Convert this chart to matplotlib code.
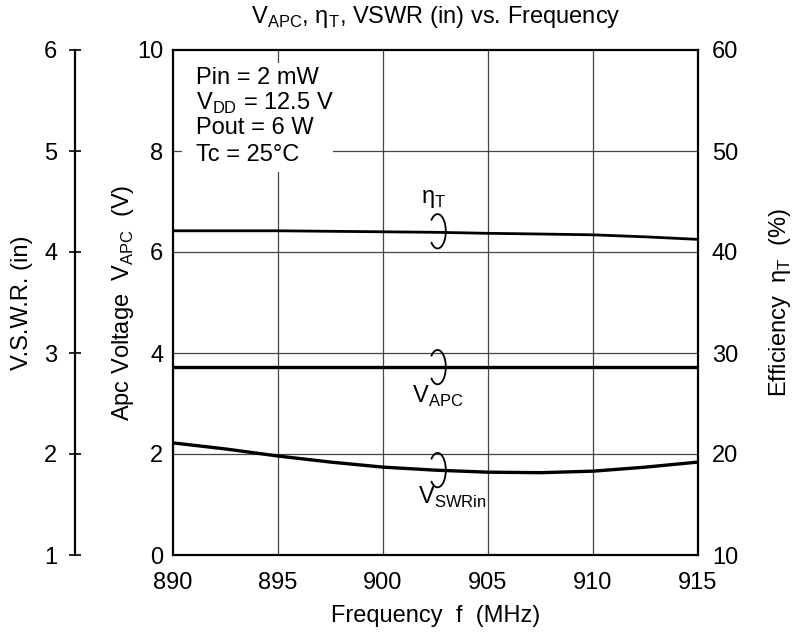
import matplotlib
matplotlib.use("Agg")
import matplotlib.pyplot as plt
from matplotlib.patches import Arc, Rectangle

plt.rcParams['font.family'] = ['Liberation Sans', 'DejaVu Sans']
plt.rcParams['mathtext.fontset'] = 'custom'
plt.rcParams['mathtext.rm'] = 'Liberation Sans'

# data
freq = [890, 892.5, 895, 897.5, 900, 902.5, 905, 907.5, 910, 912.5, 915]
vapc = [3.72, 3.72, 3.72, 3.72, 3.72, 3.72, 3.72, 3.72, 3.72, 3.72, 3.72]
eff = [42.1, 42.1, 42.1, 42.05, 42.0, 41.95, 41.85, 41.78, 41.7, 41.5, 41.25]
vswr = [2.11, 2.05, 1.98, 1.92, 1.87, 1.84, 1.82, 1.815, 1.83, 1.87, 1.92]

x_ticks = [890, 895, 900, 905, 910, 915]
v_ticks = [0, 2, 4, 6, 8, 10]
eff_ticks = [10, 20, 30, 40, 50, 60]
vswr_ticks = [1, 2, 3, 4, 5, 6]

fs = 17
fig = plt.figure(figsize=(7.92, 6.36), dpi=100)
ax = fig.add_axes([173/792, 1-555/636, 525/792, 505/636])

ax.set_xlim(890, 915)
ax.set_ylim(0, 10)
ax.set_xticks(x_ticks)
ax.set_yticks(v_ticks)
ax.tick_params(length=0, labelsize=fs)
ax.tick_params(axis='x', pad=12)
ax.tick_params(axis='y', pad=7)
for s in ax.spines.values():
    s.set_linewidth(1.6)
for xv in x_ticks[1:-1]:
    ax.axvline(xv, color='#444444', lw=0.9, zorder=1)
for yv in v_ticks[1:-1]:
    ax.axhline(yv, color='#444444', lw=0.9, zorder=1)

ax.plot(freq, vapc, color='black', lw=2.4, zorder=3)
ax.set_xlabel('Frequency  f  (MHz)', fontsize=fs, labelpad=8)
ax.set_ylabel(r'Apc Voltage  V$_\mathregular{APC}$  (V)', fontsize=fs, va='center')
ax.yaxis.set_label_coords((123-173)/525, 0.5)

# condition box
ax.add_patch(Rectangle((890.45, 7.58), 7.15, 2.16, facecolor='white',
                       edgecolor='none', zorder=2))
cond = ['Pin = 2 mW', r'V$_\mathregular{DD}$ = 12.5 V', 'Pout = 6 W', 'Tc = 25°C']
cond_y = [9.45, 8.95, 8.46, 7.92]
for t, yv in zip(cond, cond_y):
    ax.text(891.1, yv, t, fontsize=fs, va='center', ha='left', zorder=4)

# efficiency axis
ax_e = ax.twinx()
ax_e.set_ylim(10, 60)
ax_e.set_yticks(eff_ticks)
ax_e.tick_params(length=0, labelsize=fs, pad=10)
for s in ax_e.spines.values():
    s.set_visible(False)
ax_e.plot(freq, eff, color='black', lw=2.0, zorder=3)
ax_e.set_ylabel(r'Efficiency  η$_\mathregular{T}$  (%)', fontsize=fs, va='center')
ax_e.yaxis.set_label_coords((780-173)/525, 0.5)

# VSWR axis
ax_s = ax.twinx()
ax_s.set_ylim(1, 6)
ax_s.set_yticks(vswr_ticks)
for k in ['right', 'top', 'bottom']:
    ax_s.spines[k].set_visible(False)
ax_s.spines['left'].set_position(('axes', -0.187))
ax_s.spines['left'].set_linewidth(1.6)
ax_s.yaxis.set_ticks_position('left')
ax_s.yaxis.set_label_position('left')
ax_s.tick_params(direction='inout', length=9, width=1.2, labelsize=fs, pad=8)
ax_s.plot(freq, vswr, color='black', lw=2.4, zorder=3)
ax_s.set_ylabel('V.S.W.R. (in)', fontsize=fs, va='center')
ax_s.yaxis.set_label_coords((22-173)/525, 0.5)

# curve markers
for yc in [6.41, 3.72, 1.68]:
    ax.add_patch(Arc((902.6, yc), 0.78, 0.68, theta1=-145, theta2=145,
                     color='black', lw=1.3, zorder=5))
ax.text(902.4, 7.05, r'η$_\mathregular{T}$', fontsize=fs, ha='center', va='center')
ax.text(902.6, 3.15, r'V$_\mathregular{APC}$', fontsize=fs, ha='center', va='center')
ax.text(903.3, 1.15, r'V$_\mathregular{SWRin}$', fontsize=fs, ha='center', va='center')

fig.text(436/792, 1-17/636, r'V$_\mathregular{APC}$, η$_\mathregular{T}$, VSWR (in) vs. Frequency',
         fontsize=fs, ha='center', va='center')

fig.savefig('out.png', dpi=100)
